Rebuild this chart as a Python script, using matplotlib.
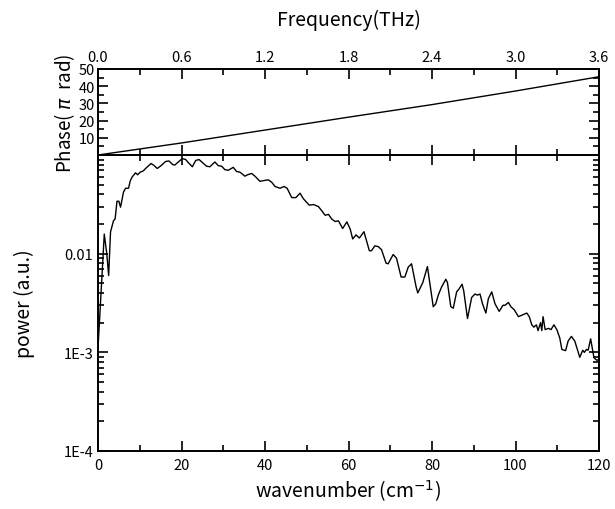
import matplotlib
matplotlib.use("Agg")
import matplotlib.pyplot as plt
from matplotlib.ticker import MultipleLocator, FixedLocator, FixedFormatter, LogLocator, NullFormatter

plt.rcParams['font.family'] = ['Noto Sans CJK JP', 'DejaVu Sans']
plt.rcParams['mathtext.fontset'] = 'dejavusans'

# Phase vs frequency (THz, pi rad)
freq_thz = [0.0, 0.6, 1.2, 1.8, 2.4, 3.0, 3.6]
phase_pi = [0.0, 7.0, 14.5, 22.0, 29.3, 37.2, 45.5]

# Power spectrum vs wavenumber (cm^-1)
wavenumber = [0.0, 1.5, 2.1, 2.55, 3.0, 3.7, 4.1, 4.55, 5.0, 5.4, 6.1, 6.6, 7.3, 7.75, 8.2,
              9.0, 9.5, 10.1, 10.85, 11.4, 12.0, 12.7, 13.3, 14.2, 15.1, 16.2, 17.0, 17.9,
              18.4, 19.1, 20.2, 21.0, 21.6, 22.6, 23.4, 24.2, 25.0, 26.0, 26.8, 28.0, 28.8,
              29.6, 30.4, 31.2, 32.4, 33.2, 34.0, 35.2, 35.8, 36.8, 37.6, 38.8, 39.6, 40.8,
              41.6, 42.4, 43.6, 44.55, 45.3, 46.4, 47.4, 48.4, 49.2, 50.6, 51.6, 52.8, 53.6,
              54.4, 55.2, 56.0, 56.8, 57.6, 58.6, 59.6, 60.4, 61.0, 61.8, 62.6, 63.7, 65.0,
              65.5, 66.3, 67.1, 67.9, 69.0, 69.5, 70.7, 71.5, 72.6, 73.5, 74.3, 75.1, 76.2,
              76.6, 77.8, 78.9, 80.3, 80.9, 81.5, 82.3, 83.3, 83.7, 84.5, 85.1, 85.9, 86.5,
              87.2, 87.6, 88.5, 89.5, 90.3, 90.9, 91.5, 92.1, 92.9, 93.5, 94.3, 95.1, 96.1,
              97.0, 97.5, 98.3, 98.9, 99.7, 100.7, 101.7, 102.7, 103.3, 103.9, 104.4, 105.0,
              105.4, 106.0, 106.3, 106.6, 107.1, 107.9, 108.5, 109.2, 109.9, 110.6, 111.1,
              112.0, 112.6, 113.4, 114.2, 115.4, 116.1, 116.5, 117.0, 117.4, 118.0, 118.8,
              119.5, 120.0]
power = [0.0011, 0.0158, 0.0100, 0.0060, 0.0166, 0.0215, 0.0225, 0.034, 0.034, 0.0296,
         0.042, 0.046, 0.046, 0.055, 0.060, 0.066, 0.063, 0.067, 0.069, 0.073, 0.077, 0.082,
         0.079, 0.073, 0.078, 0.086, 0.087, 0.080, 0.079, 0.084, 0.092, 0.090, 0.084, 0.076,
         0.088, 0.090, 0.084, 0.077, 0.076, 0.085, 0.078, 0.077, 0.071, 0.070, 0.075, 0.068,
         0.067, 0.061, 0.063, 0.065, 0.061, 0.054, 0.055, 0.056, 0.053, 0.048, 0.046, 0.048,
         0.046, 0.037, 0.037, 0.041, 0.036, 0.031, 0.0315, 0.030, 0.0272, 0.0245, 0.025,
         0.0224, 0.0212, 0.0215, 0.018, 0.021, 0.0178, 0.0141, 0.0155, 0.0144, 0.0167,
         0.0107, 0.0107, 0.012, 0.0118, 0.011, 0.0080, 0.0079, 0.0098, 0.0090, 0.0058,
         0.0058, 0.0073, 0.0079, 0.0046, 0.0040, 0.0051, 0.0074, 0.0029, 0.0031, 0.0038,
         0.0046, 0.0055, 0.0051, 0.0029, 0.0028, 0.0041, 0.0044, 0.0049, 0.0042, 0.0022,
         0.0036, 0.0039, 0.0038, 0.0039, 0.0031, 0.0025, 0.0035, 0.0041, 0.0031, 0.0026,
         0.0030, 0.0030, 0.0032, 0.0029, 0.0027, 0.0023, 0.0024, 0.0025, 0.0023, 0.0019,
         0.0018, 0.0019, 0.00166, 0.0020, 0.00166, 0.0023, 0.0017, 0.00175, 0.0017, 0.0019,
         0.0017, 0.0014, 0.00107, 0.00104, 0.0013, 0.00145, 0.0013, 0.00089, 0.00105,
         0.00100, 0.00107, 0.00105, 0.00137, 0.00088, 0.00083, 0.00085]

fig = plt.figure(figsize=(6.15, 5.1), dpi=100)
L, R = 98 / 615, 599 / 615
main_bottom = 1 - 452 / 510
main_top = 1 - 156 / 510
ph_top = 1 - 70 / 510

ax = fig.add_axes([L, main_bottom, R - L, main_top - main_bottom])
axp = fig.add_axes([L, main_top, R - L, ph_top - main_top])

lw_spine = 1.4
for a in (ax, axp):
    for s in a.spines.values():
        s.set_linewidth(lw_spine)

# Main panel
ax.plot(wavenumber, power, color='black', lw=1.0)
ax.set_yscale('log')
ax.set_xlim(0, 120)
ax.set_ylim(1e-4, 1e-1)
ax.xaxis.set_major_locator(MultipleLocator(20))
ax.xaxis.set_minor_locator(MultipleLocator(10))
ax.yaxis.set_major_locator(FixedLocator([1e-4, 1e-3, 1e-2, 1e-1]))
ax.yaxis.set_major_formatter(FixedFormatter(['1E-4', '1E-3', '0.01', '']))
ax.yaxis.set_minor_locator(LogLocator(base=10, subs=range(2, 10)))
ax.yaxis.set_minor_formatter(NullFormatter())
ax.tick_params(which='both', direction='in', top=True, right=True, labelsize=10.5, width=1.2)
ax.tick_params(which='major', length=7)
ax.tick_params(which='minor', length=4)
ax.tick_params(axis='x', which='major', pad=5)
ax.set_xlabel('wavenumber (cm$^{-1}$)', fontsize=14, labelpad=4)
ax.set_ylabel('power (a.u.)', fontsize=14, labelpad=20)

# Phase panel
axp.plot(freq_thz, phase_pi, color='black', lw=1.0)
axp.set_xlim(0, 3.6)
axp.set_ylim(0, 50)
axp.xaxis.set_major_locator(MultipleLocator(0.6))
axp.xaxis.set_minor_locator(MultipleLocator(0.3))
axp.xaxis.set_major_formatter(plt.FuncFormatter(lambda v, p: f'{v:.1f}'))
axp.yaxis.set_major_locator(FixedLocator([10, 20, 30, 40, 50]))
axp.yaxis.set_minor_locator(MultipleLocator(5))
axp.xaxis.tick_top()
axp.xaxis.set_label_position('top')
axp.tick_params(which='both', direction='in', top=True, bottom=True, right=True,
                labelbottom=False, labeltop=True, labelsize=10.5, width=1.2)
axp.tick_params(which='major', length=7)
axp.tick_params(which='minor', length=4)
axp.tick_params(axis='y', pad=2)
axp.set_xlabel('Frequency(THz)', fontsize=14, labelpad=18)
axp.set_ylabel('Phase( $\\pi$  rad)', fontsize=13.5, labelpad=1)

fig.savefig('out.png', dpi=100)
